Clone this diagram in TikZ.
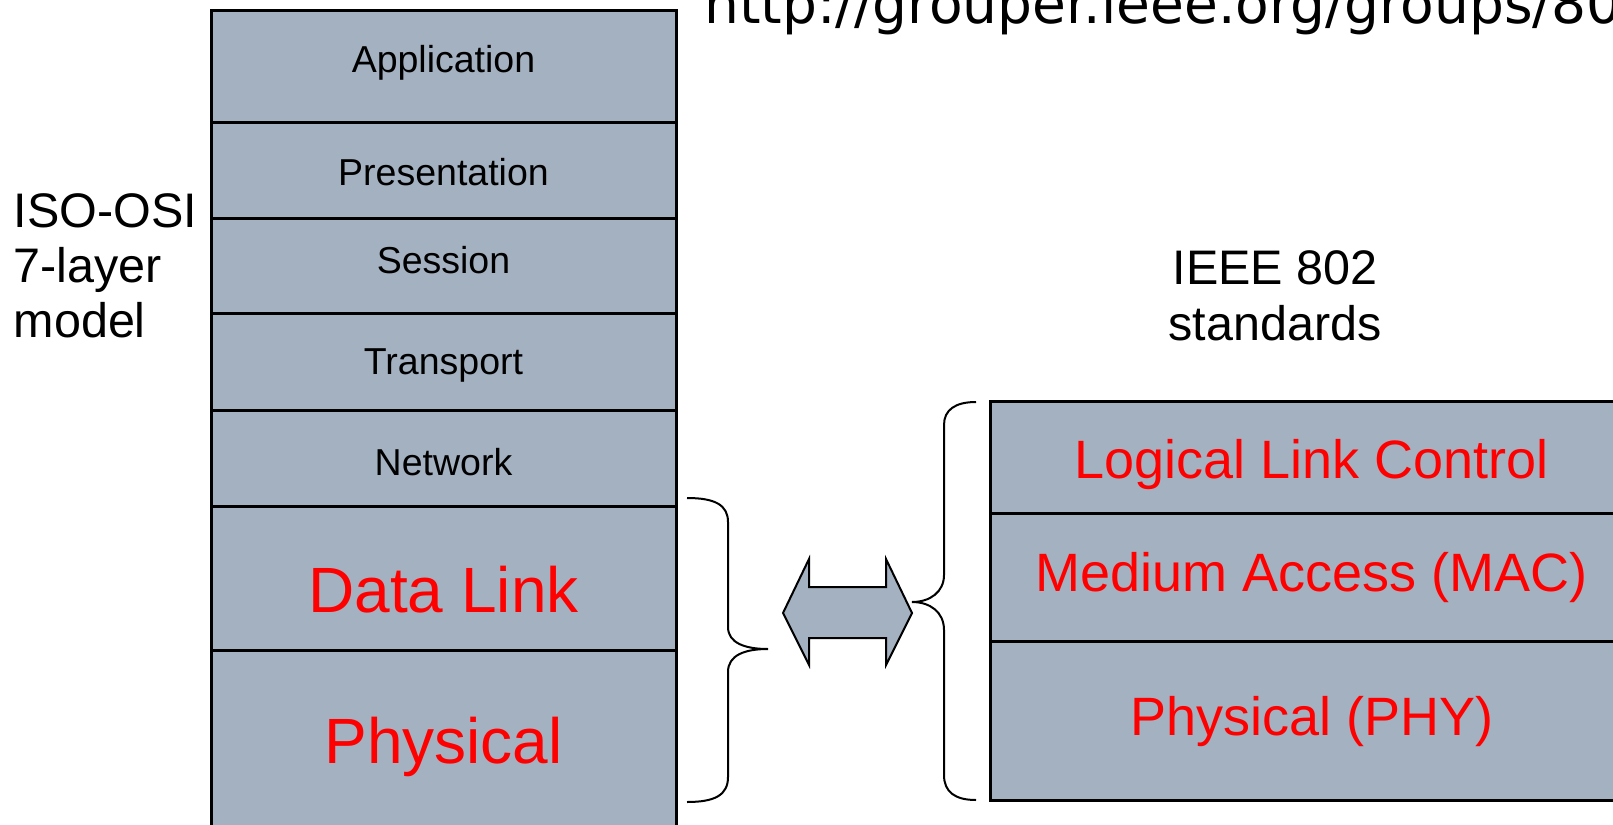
\documentclass[tikz,border=0pt]{standalone}
\usepackage{fontspec}
\setmainfont{Liberation Sans}
\newfontfamily\urlfont{DejaVu Sans}
\definecolor{layerfill}{RGB}{163,177,192}
\definecolor{redtxt}{RGB}{255,0,0}
\begin{document}
\begin{tikzpicture}[x=1pt,y=-1pt,
  layerbox/.style={draw=black, line width=3pt, fill=layerfill, rectangle, inner sep=0pt},
  leftbox/.style={layerbox, minimum width=465pt},
  rightbox/.style={layerbox, minimum width=642pt},
  smalltxt/.style={font=\fontsize{37.5}{45}\selectfont, inner sep=0pt, text=black},
  bigtxt/.style={font=\fontsize{64}{76}\selectfont, inner sep=0pt, text=redtxt},
  midtxt/.style={font=\fontsize{54}{64}\selectfont, inner sep=0pt, text=redtxt},
  bracestyle/.style={draw=black, line width=2pt},
  arrowstyle/.style={draw=black, line width=2pt, fill=layerfill, line join=miter}]
\useasboundingbox (0,0) rectangle (1613,824);
\clip (0,0) rectangle (1613,824);
\fill[white] (0,0) rectangle (1613,824);

% left stack (ISO-OSI)
\node[leftbox, minimum height=112.1pt] (app)   at (443.5,66.35) {};
\node[leftbox, minimum height=95.6pt]  (pres)  at (443.5,170.2) {};
\node[leftbox, minimum height=95.8pt]  (sess)  at (443.5,265.9) {};
\node[leftbox, minimum height=96.6pt]  (trans) at (443.5,362.1) {};
\node[leftbox, minimum height=95.6pt]  (net)   at (443.5,458.2) {};
\node[leftbox, minimum height=144pt]   (dl)    at (443.5,578) {};
\node[leftbox, minimum height=200pt]   (phy)   at (443.5,750) {};

\node[smalltxt] (tapp)   at (443.5,63) {Application};
\node[smalltxt] (tpres)  at (443.5,172.5) {Presentation};
\node[smalltxt] (tsess)  at (443.5,260.5) {Session};
\node[smalltxt] (ttrans) at (443.5,365) {Transport};
\node[smalltxt] (tnet)   at (443.5,462) {Network};
\node[bigtxt]   (tdl)    at (443.5,590) {Data Link};
\node[bigtxt]   (tphy)   at (443.5,747) {Physical};

% right stack (IEEE 802)
\node[rightbox, minimum height=112.3pt] (llc)  at (1311.6,457.2) {};
\node[rightbox, minimum height=127.7pt] (mac)  at (1311.6,577.2) {};
\node[rightbox, minimum height=159.3pt] (phyr) at (1311.6,720.7) {};

\node[midtxt] (tllc)  at (1311.6,465) {Logical Link Control};
\node[midtxt] (tmac)  at (1311.6,578) {Medium Access (MAC)};
\node[midtxt] (tphyr) at (1311.6,722) {Physical (PHY)};

% labels
\node[anchor=north west, inner sep=0pt, align=left,
      font=\fontsize{48.5}{54.8}\selectfont] (iso) at (13.5,193.4)
      {ISO-OSI\\7-layer\\model};
\node[anchor=north, inner sep=0pt, align=center,
      font=\fontsize{48.5}{56}\selectfont] (ieee) at (1275,250)
      {IEEE 802\\standards};
\node[anchor=base west, inner sep=0pt,
      font=\urlfont\fontsize{55}{66}\selectfont] (url) at (704,24)
      {http://grouper.ieee.org/groups/802};

% braces
\coordinate (ltip) at (768,649);
\coordinate (rtip) at (912,602);
\draw[bracestyle] (687,498) .. controls (715,498) and (728,505) .. (728,522)
  -- (728,627) .. controls (728,643) and (745,649) .. (ltip)
  .. controls (745,649) and (728,655) .. (728,672)
  -- (728,777) .. controls (728,795) and (715,802) .. (687,802);
\draw[bracestyle] (976,402) .. controls (955,402) and (944,410) .. (944,425)
  -- (944,575) .. controls (944,592) and (930,602) .. (rtip)
  .. controls (930,602) and (944,612) .. (944,630)
  -- (944,775) .. controls (944,792) and (955,800) .. (976,800);

% double arrow
\draw[arrowstyle] (783,613) -- (809,559) -- (809,587) -- (886,587) -- (886,559)
  -- (912,613) -- (886,665) -- (886,638) -- (809,638) -- (809,665) -- cycle;
\end{tikzpicture}
\end{document}
